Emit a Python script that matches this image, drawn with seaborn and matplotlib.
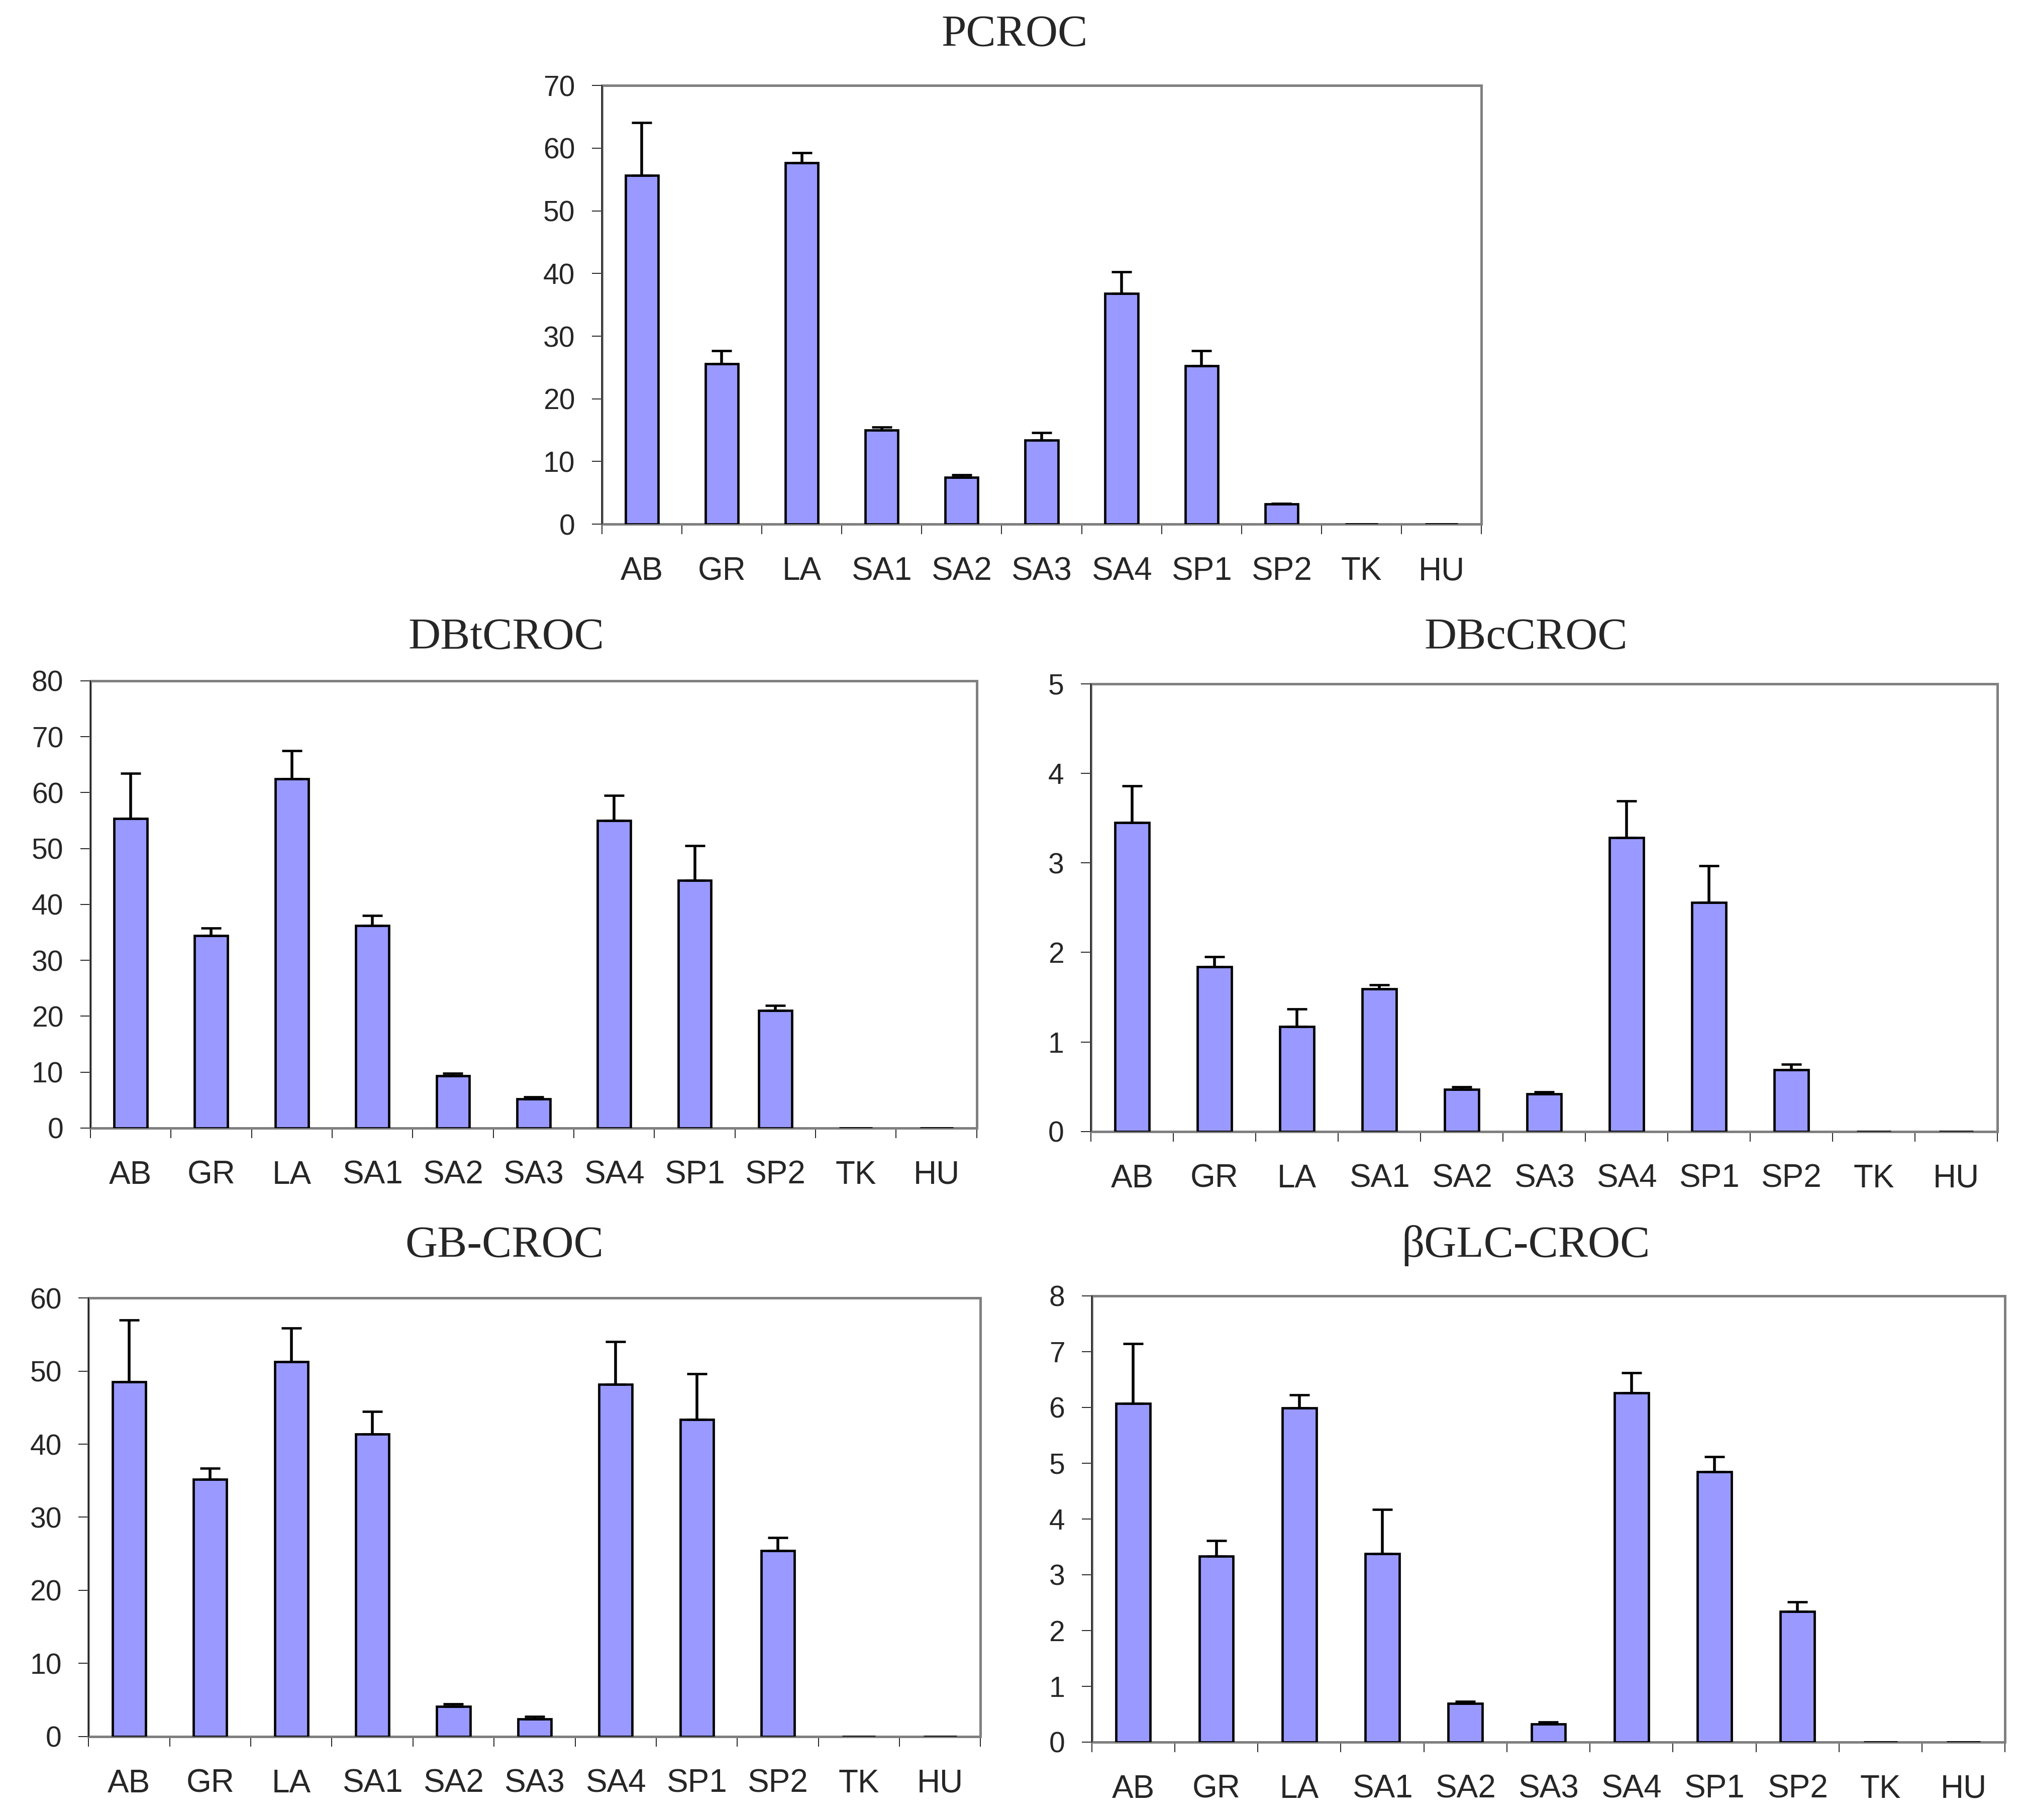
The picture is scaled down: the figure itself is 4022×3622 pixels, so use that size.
import numpy as np
import matplotlib
matplotlib.use("Agg")
import matplotlib.pyplot as plt
import seaborn as sns

cats = ["AB", "GR", "LA", "SA1", "SA2", "SA3", "SA4", "SP1", "SP2", "TK", "HU"]

pcroc = [55.7, 25.6, 57.7, 15.0, 7.5, 13.4, 36.8, 25.3, 3.2, 0, 0]
pcroc_err = [8.4, 2.1, 1.6, 0.5, 0.4, 1.2, 3.5, 2.4, 0.1, 0, 0]

dbt = [55.4, 34.4, 62.5, 36.2, 9.35, 5.2, 55.0, 44.3, 21.0, 0, 0]
dbt_err = [8.1, 1.4, 5.0, 1.8, 0.45, 0.4, 4.5, 6.2, 0.9, 0, 0]

dbc = [3.45, 1.84, 1.17, 1.59, 0.47, 0.42, 3.28, 2.56, 0.69, 0, 0]
dbc_err = [0.41, 0.11, 0.20, 0.05, 0.03, 0.02, 0.41, 0.41, 0.06, 0, 0]

gb = [48.5, 35.2, 51.3, 41.4, 4.1, 2.4, 48.2, 43.4, 25.4, 0, 0]
gb_err = [8.5, 1.5, 4.6, 3.1, 0.35, 0.3, 5.8, 6.2, 1.8, 0, 0]

bglc = [6.07, 3.33, 5.99, 3.38, 0.69, 0.32, 6.26, 4.85, 2.34, 0, 0]
bglc_err = [1.07, 0.28, 0.23, 0.79, 0.04, 0.04, 0.36, 0.27, 0.17, 0, 0]

sns.set_style("white")
plt.rcParams["font.family"] = ["Liberation Sans", "DejaVu Sans"]

BAR = "#9999FF"
GREY = "#808080"

fig = plt.figure(figsize=(40.22, 36.22), dpi=100)

# [left, bottom, width, height], ymax, ystep, title, title x, title baseline
panels = [
    (pcroc, pcroc_err, [0.2978, 0.712, 0.4352, 0.241], 70, 10, "PCROC", 0.502, 0.975),
    (dbt, dbt_err, [0.0447, 0.3802, 0.4386, 0.2457], 80, 10, "DBtCROC", 0.2506, 0.6438),
    (dbc, dbc_err, [0.5398, 0.3783, 0.4485, 0.246], 5, 1, "DBcCROC", 0.755, 0.6438),
    (gb, gb_err, [0.0438, 0.0459, 0.4414, 0.2409], 60, 10, "GB-CROC", 0.2496, 0.3095),
    (bglc, bglc_err, [0.5402, 0.0428, 0.4519, 0.2452], 8, 1, "\u03b2GLC-CROC", 0.755, 0.3095),
]

for vals, errs, rect, ymax, ystep, title, tx, ty in panels:
    ax = fig.add_axes(rect)
    sns.barplot(x=cats, y=vals, color=BAR, saturation=1, edgecolor="black",
                linewidth=3.4, width=0.41, errorbar=None, ax=ax, zorder=3)

    pos = np.arange(len(cats))
    errs = np.array(errs)
    vals = np.array(vals)
    keep = errs > 0
    ax.errorbar(pos[keep], vals[keep], yerr=[np.zeros(keep.sum()), errs[keep]],
                fmt="none", ecolor="black", elinewidth=4, capsize=14.5,
                capthick=3.4, zorder=4)

    ax.set_xlim(-0.5, len(cats) - 0.5)
    ax.set_ylim(0, ymax)
    ax.set_yticks(np.arange(0, ymax + ystep / 2, ystep))
    ax.set_xlabel("")
    ax.set_ylabel("")

    for side in ["top", "right", "bottom", "left"]:
        ax.spines[side].set_visible(True)
        ax.spines[side].set_color(GREY)
        ax.spines[side].set_linewidth(3.6)
    ax.plot([0, 0], [0, 1], transform=ax.transAxes, color="black", lw=1.2,
            clip_on=False, zorder=5)

    ax.tick_params(axis="y", which="major", direction="out", length=14.4,
                   width=1.2, color="black", labelsize=41, pad=24, left=True)
    ax.tick_params(axis="x", which="major", length=0, labelsize=46, pad=46)
    ax.set_xticks(np.arange(-0.5, len(cats), 1), minor=True)
    ax.tick_params(axis="x", which="minor", direction="out", length=14.4,
                   width=1.2, color="black", bottom=True)

    fig.text(tx, ty, title, ha="center", va="baseline", fontsize=64,
             family=["Liberation Serif", "DejaVu Serif"])

fig.savefig("out.png", dpi=100, facecolor="white")
